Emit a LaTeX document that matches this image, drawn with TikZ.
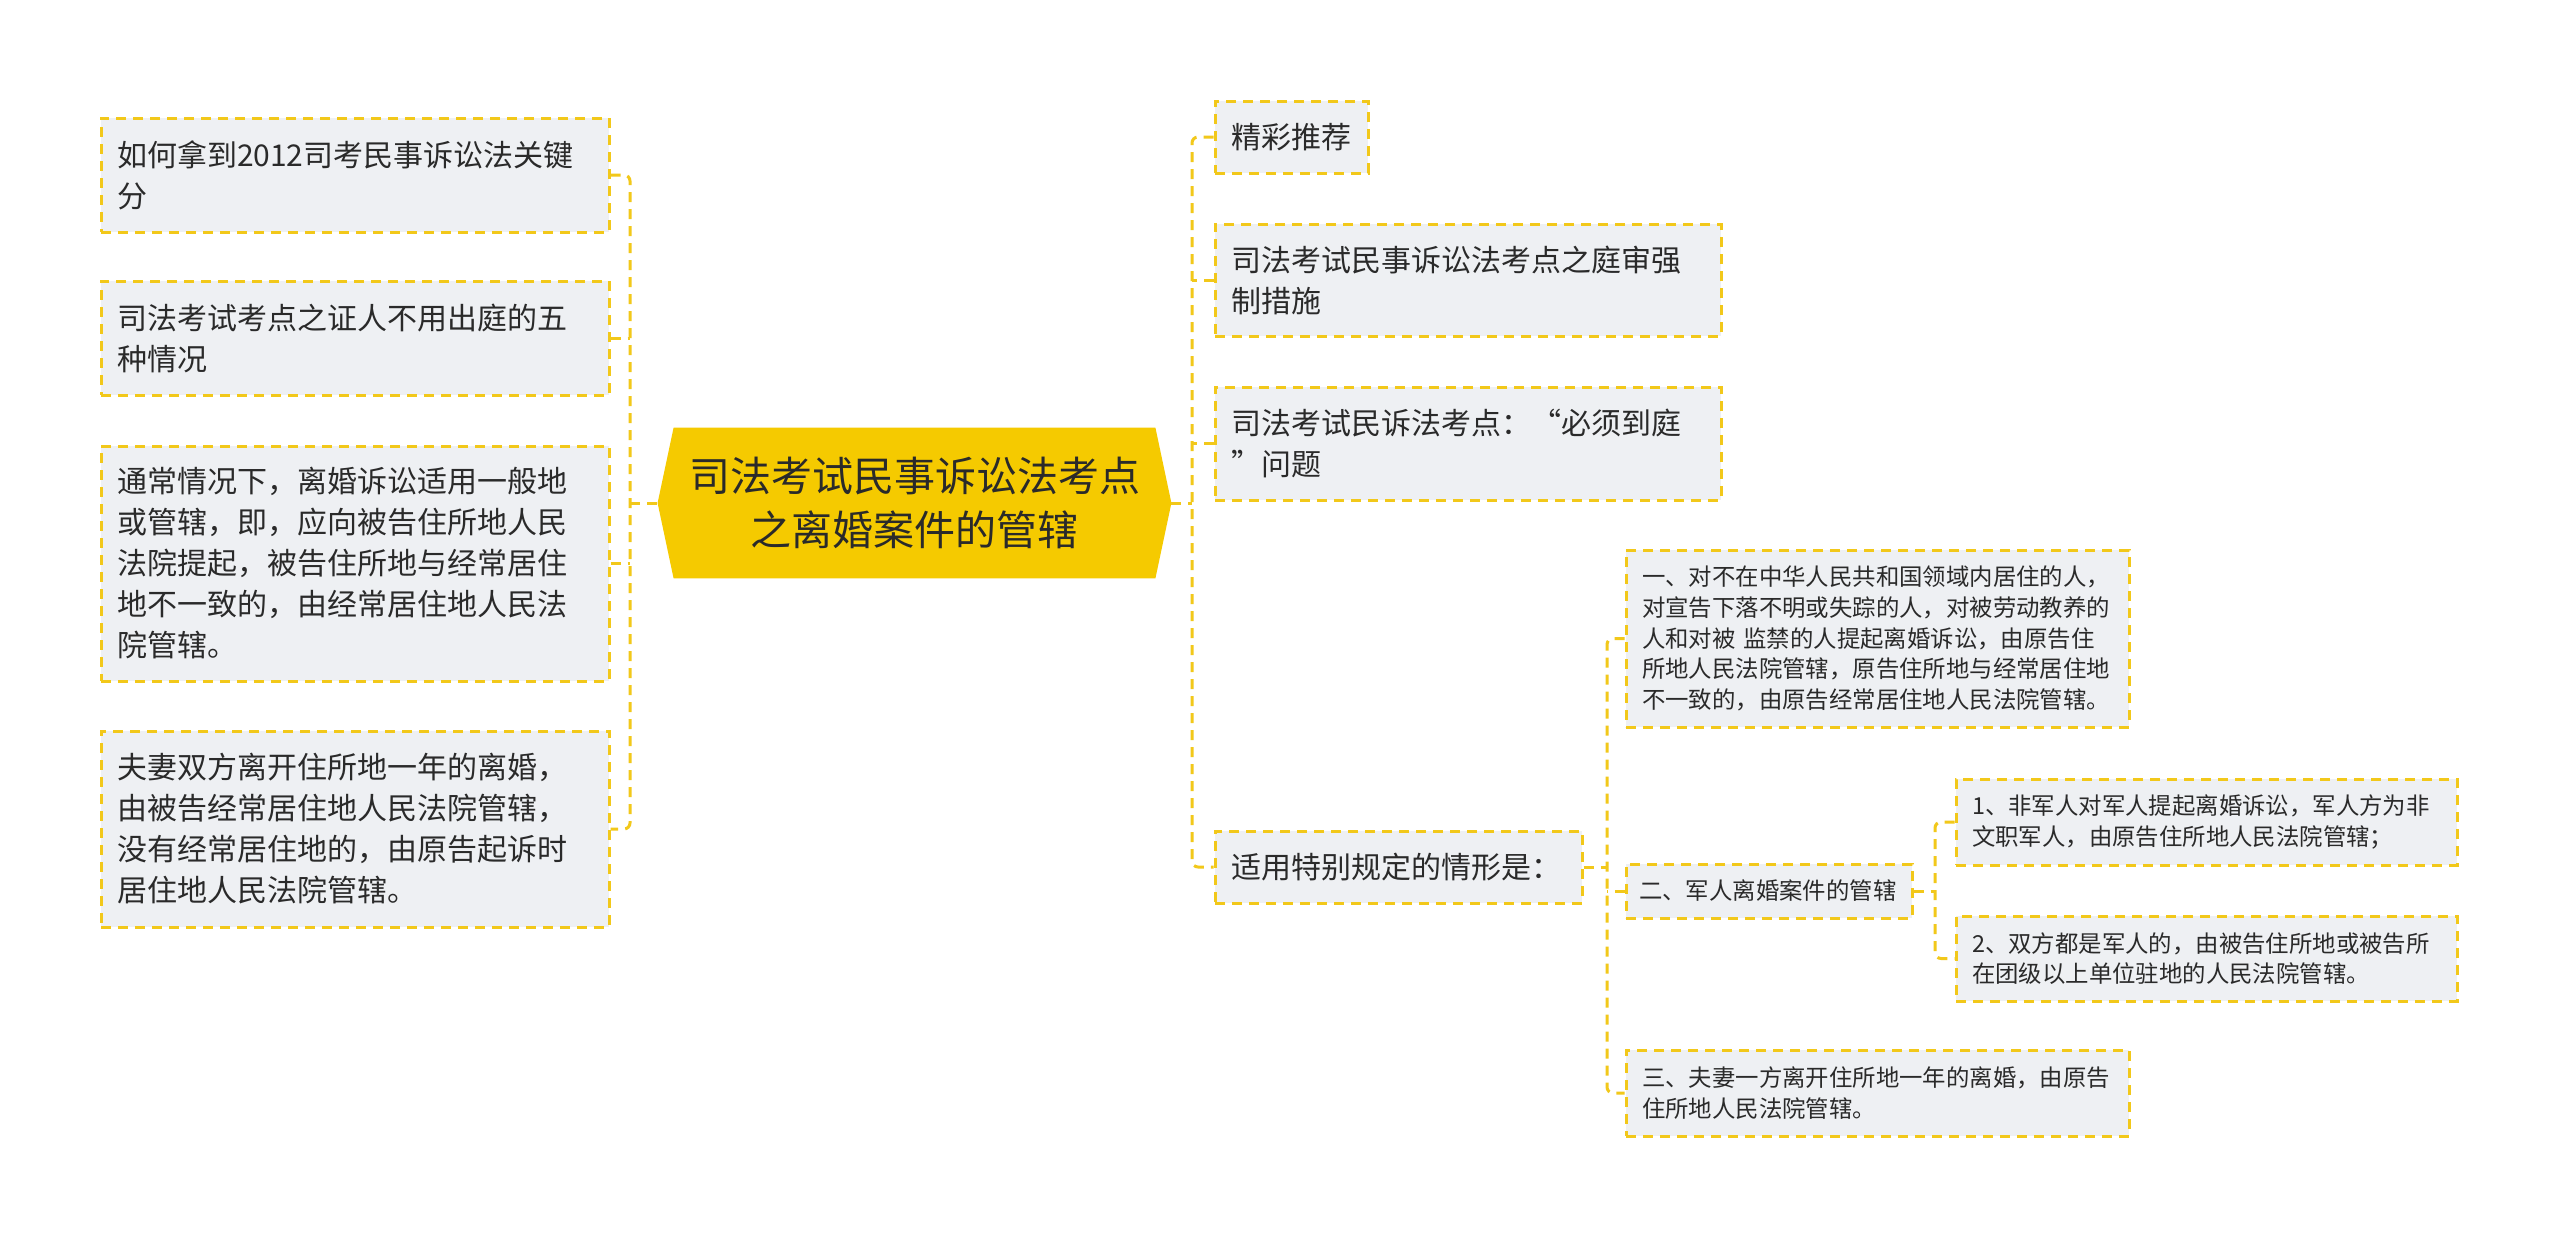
\documentclass[tikz,border=0pt]{standalone}
\usepackage{fontspec}
\newfontfamily\cjk{Noto Sans CJK SC}
\usetikzlibrary{backgrounds}
\definecolor{ylw}{HTML}{F2C81A}
\definecolor{boxfill}{HTML}{EEF0F3}
\definecolor{centerfill}{HTML}{F5CA00}
\definecolor{txt}{HTML}{2A2A2A}
\tikzset{
  leaf/.style={draw=ylw, fill=boxfill, line width=1.5pt, dash pattern=on 5pt off 3.5pt,
    inner xsep=8pt, inner ysep=0pt, align=left, text=txt, anchor=center},
  big/.style={leaf, font=\cjk\fontsize{15pt}{20.5pt}\selectfont},
  small/.style={leaf, font=\cjk\fontsize{11.7pt}{15.3pt}\selectfont},
  conn/.style={draw=ylw, line width=1.5pt, dash pattern=on 5pt off 3.5pt, rounded corners=3pt},
}
\begin{document}
\begin{tikzpicture}[x=0.5pt, y=-0.5pt]
\useasboundingbox (0,0) rectangle (2560,1239);

% center
\node[font=\cjk\fontsize{20.5pt}{27pt}\selectfont, align=center, text=txt,
  minimum width=256.5pt, minimum height=75pt, inner sep=0pt] (C) at (914.5,503)
  {司法考试民事诉讼法考点\\之离婚案件的管辖};
\begin{scope}[on background layer]
\fill[white] (0,0) rectangle (2560,1239);
\fill[centerfill] (C.west) -- ([xshift=8pt]C.north west) -- ([xshift=-8pt]C.north east)
  -- (C.east) -- ([xshift=-8pt]C.south east) -- ([xshift=8pt]C.south west) -- cycle;
\end{scope}

% left
\node[big, text width=238pt, minimum height=57pt] (L1) at (355,175)
  {如何拿到2012司考民事诉讼法关键\\分};
\node[big, text width=238pt, minimum height=57pt] (L2) at (355,338)
  {司法考试考点之证人不用出庭的五\\种情况};
\node[big, text width=238pt, minimum height=117.5pt] (L3) at (355,563.5)
  {通常情况下，离婚诉讼适用一般地\\或管辖，即，应向被告住所地人民\\法院提起，被告住所地与经常居住\\地不一致的，由经常居住地人民法\\院管辖。};
\node[big, text width=238pt, minimum height=98pt] (L4) at (355,829)
  {夫妻双方离开住所地一年的离婚，\\由被告经常居住地人民法院管辖，\\没有经常居住地的，由原告起诉时\\居住地人民法院管辖。};

% right
\node[big, text width=60.5pt, minimum height=36pt] (R1) at (1291.5,137) {精彩推荐};
\node[big, text width=237pt, minimum height=56pt] (R2) at (1468,280)
  {司法考试民事诉讼法考点之庭审强\\制措施};
\node[big, text width=237pt, minimum height=56.5pt] (R3) at (1468,443.5)
  {司法考试民诉法考点：“必须到庭\\”问题};
\node[big, text width=167.5pt, minimum height=36pt] (R4) at (1398.5,867)
  {适用特别规定的情形是：};

% level 3
\node[small, text width=235.5pt, minimum height=88.5pt] (S1) at (1877.5,638.5)
  {一、对不在中华人民共和国领域内居住的人，\\对宣告下落不明或失踪的人，对被劳动教养的\\人和对被 监禁的人提起离婚诉讼，由原告住\\所地人民法院管辖，原告住所地与经常居住地\\不一致的，由原告经常居住地人民法院管辖。};
\node[small, text width=130pt, inner xsep=6.5pt, minimum height=27pt] (S2) at (1769,891)
  {二、军人离婚案件的管辖};
\node[small, text width=235.5pt, minimum height=43pt] (S3) at (1877.5,1093)
  {三、夫妻一方离开住所地一年的离婚，由原告\\住所地人民法院管辖。};

% level 4
\node[small, text width=234.5pt, minimum height=43pt] (T1) at (2206.5,822)
  {1、非军人对军人提起离婚诉讼，军人方为非\\文职军人，由原告住所地人民法院管辖；};
\node[small, text width=234.5pt, minimum height=42.5pt] (T2) at (2206.5,958.5)
  {2、双方都是军人的，由被告住所地或被告所\\在团级以上单位驻地的人民法院管辖。};

% connectors
\coordinate (lv) at (630,503);
\draw[conn] (L1.east) -| (lv) |- (L4.east);
\draw[conn] (L2.east) -- (L2.east -| lv);
\draw[conn] (L3.east) -- (L3.east -| lv);
\draw[conn] (lv) -- (C.west);

\coordinate (rv) at (1192,503);
\draw[conn] (R1.west) -| (rv) |- (R4.west);
\draw[conn] (R2.west) -- (R2.west -| rv);
\draw[conn] (R3.west) -- (R3.west -| rv);
\draw[conn] (C.east) -- (rv);

\coordinate (sv) at (1607,867);
\draw[conn] (S1.west) -| (sv) |- (S3.west);
\draw[conn] (S2.west) -- (S2.west -| sv);
\draw[conn] (R4.east) -- (sv);

\coordinate (tv) at (1935,891);
\draw[conn] (T1.west) -| (tv) |- (T2.west);
\draw[conn] (S2.east) -- (tv);
\end{tikzpicture}
\end{document}
